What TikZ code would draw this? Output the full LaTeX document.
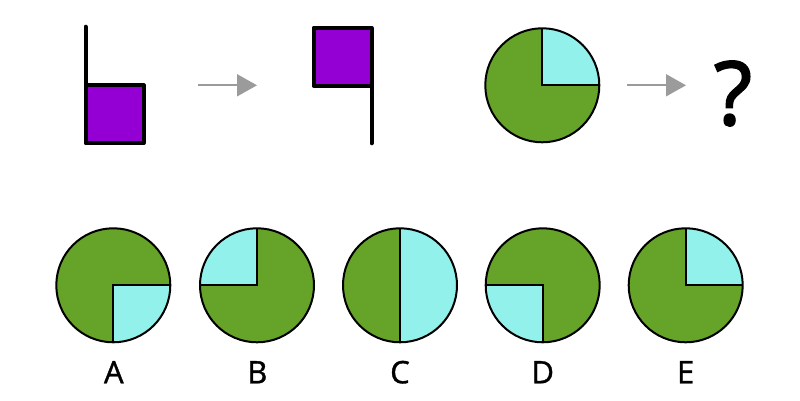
\documentclass[tikz,border=0pt]{standalone}
\usepackage{fontspec}
\setmainfont{Open Sans}
\newfontfamily\heavyq[FakeBold=2.2]{Open Sans}
\newfontfamily\heavylab[FakeBold=1.2]{Open Sans}
\usetikzlibrary{arrows.meta}
\definecolor{pur}{HTML}{9400D3}
\definecolor{grn}{HTML}{66A329}
\definecolor{cyn}{HTML}{93F1EB}
\definecolor{arr}{HTML}{9B9B9B}
\begin{document}
\begin{tikzpicture}[x=1pt,y=1pt,
  pie/.style={circle, fill=grn, minimum size=114pt, inner sep=0pt, outer sep=0pt},
  edge/.style={line width=2pt, draw=black},
  flagbox/.style={fill=pur, minimum size=58pt, inner sep=0pt, outer sep=0pt},
  flagedge/.style={line width=4pt, line join=round},
  pole/.style={line width=4pt, line cap=round},
  grayarrow/.style={draw=arr, line width=1.8pt, -{Triangle[length=20pt,width=22pt,fill=arr]}},
  lab/.style={font=\heavylab\fontsize{31}{31}\selectfont, anchor=base, inner sep=0pt},
  qmark/.style={font=\heavyq\fontsize{88}{88}\selectfont, inner sep=0pt}
]
\useasboundingbox (0,0) rectangle (800,401);

% first flag
\node[flagbox] (f1) at (114.5,286.8) {};
\coordinate (f1top) at (f1.north west |- 0,374.3);
\draw[pole] (f1top) -- (f1.north west);
\draw[flagedge] (f1.north west) rectangle (f1.south east);

% arrow 1
\coordinate (a1s) at (198,315.7);
\coordinate (a1e) at (257,315.7);
\draw[grayarrow] (a1s) -- (a1e);

% second flag
\node[flagbox] (f2) at (342.5,344.3) {};
\coordinate (f2bot) at (f2.south east |- 0,257.7);
\draw[pole] (f2.south east) -- (f2bot);
\draw[flagedge] (f2.north west) rectangle (f2.south east);

% top pie
\node[pie] (T) at (542.3,315.7) {};
\fill[cyn] (T.center) -- (T.east) arc[start angle=0,end angle=90,radius=57] -- cycle;
\draw[edge] (T.east) -- (T.center) -- (T.north);
\draw[edge] (T.center) circle[radius=57];

% arrow 2
\coordinate (a2s) at (627,315.7);
\coordinate (a2e) at (686,315.7);
\draw[grayarrow] (a2s) -- (a2e);

\node[qmark] (qm) at (733,307.5) {?};

% options
\node[pie] (A) at (113.3,115.7) {};
\fill[cyn] (A.center) -- (A.south) arc[start angle=270,end angle=360,radius=57] -- cycle;
\draw[edge] (A.east) -- (A.center) -- (A.south);
\draw[edge] (A.center) circle[radius=57];

\node[pie] (B) at (257,115.7) {};
\fill[cyn] (B.center) -- (B.west) arc[start angle=180,end angle=90,radius=57] -- cycle;
\draw[edge] (B.west) -- (B.center) -- (B.north);
\draw[edge] (B.center) circle[radius=57];

\node[pie] (C) at (400,115.7) {};
\fill[cyn] (C.south) arc[start angle=270,end angle=450,radius=57] -- cycle;
\draw[edge] (C.north) -- (C.south);
\draw[edge] (C.center) circle[radius=57];

\node[pie] (D) at (542.7,115.7) {};
\fill[cyn] (D.center) -- (D.west) arc[start angle=180,end angle=270,radius=57] -- cycle;
\draw[edge] (D.west) -- (D.center) -- (D.south);
\draw[edge] (D.center) circle[radius=57];

\node[pie] (E) at (685.7,115.7) {};
\fill[cyn] (E.center) -- (E.east) arc[start angle=0,end angle=90,radius=57] -- cycle;
\draw[edge] (E.east) -- (E.center) -- (E.north);
\draw[edge] (E.center) circle[radius=57];

\node[lab] (lA) at (113.8,17.7) {A};
\node[lab] (lB) at (257.3,17.7) {B};
\node[lab] (lC) at (400,17.7) {C};
\node[lab] (lD) at (542.7,17.7) {D};
\node[lab] (lE) at (685.7,17.7) {E};
\end{tikzpicture}
\end{document}
